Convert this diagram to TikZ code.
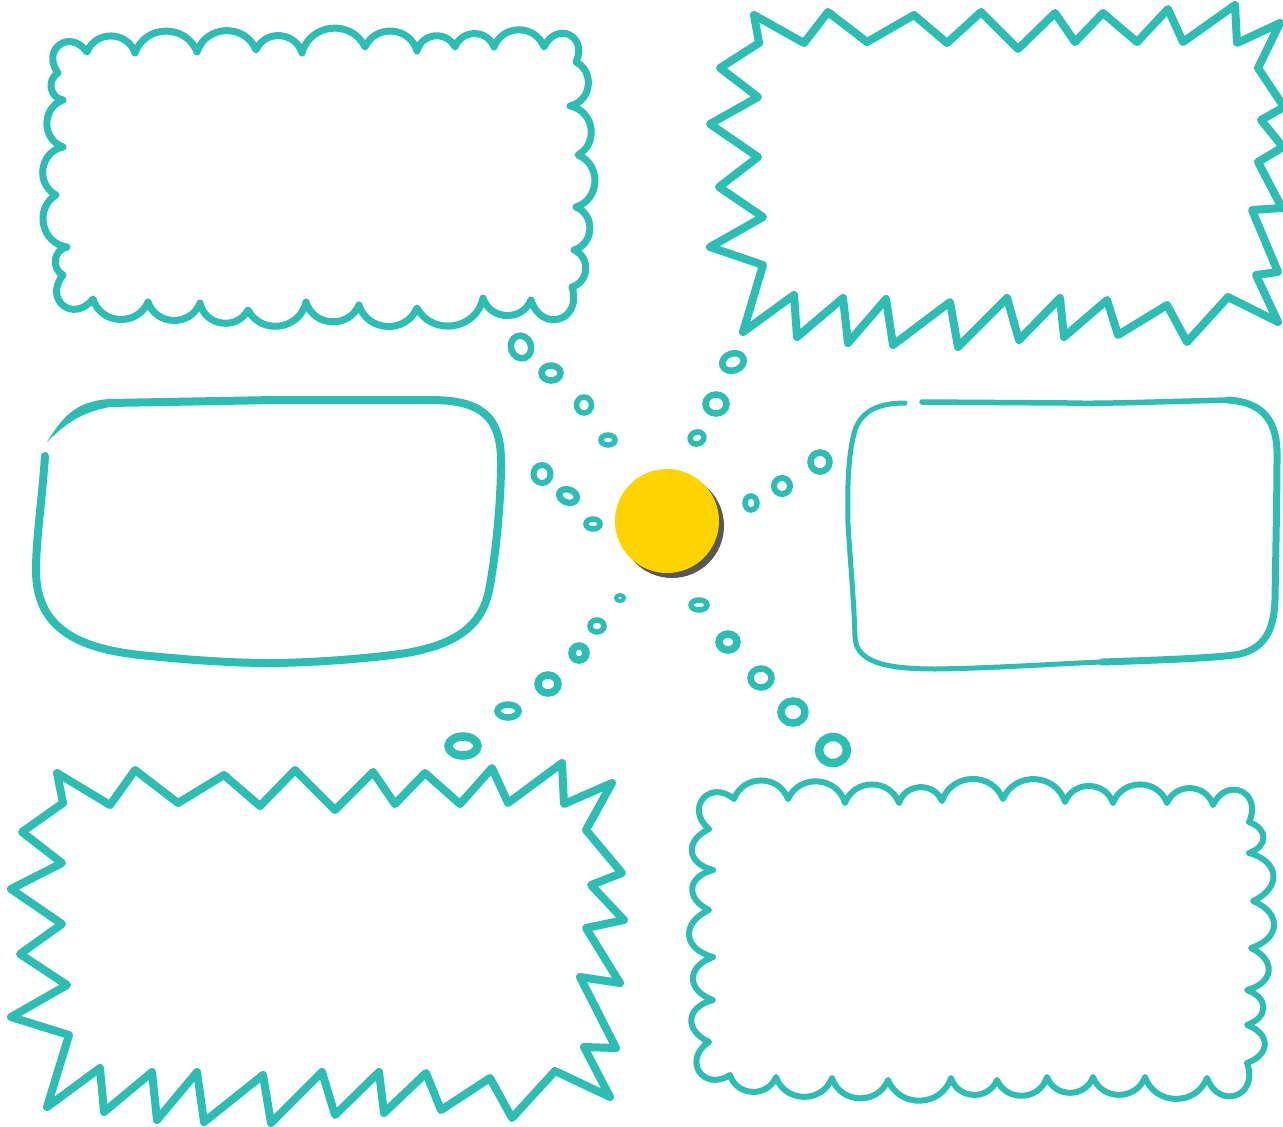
\documentclass[tikz,border=0pt]{standalone}
\usetikzlibrary{calc}
\definecolor{teal1}{HTML}{2CBEB3}
\definecolor{sunyellow}{HTML}{FDD300}
\definecolor{shadowgray}{HTML}{58585A}
\newcommand\ringat[6]{\draw[ringline, line width=#6pt, shift={(#1,#2)}] (0,0) ellipse [x radius=#3, y radius=#4, rotate=#5];}
\begin{document}
\begin{tikzpicture}[x=1pt,y=-1pt,
  outline/.style={draw=teal1, line width=8pt, line join=round, line cap=round},
  ringline/.style={draw=teal1},
  bumpy/.style={bend left=70, looseness=1.25},
  bumpyside/.style={bend left=70, looseness=1.7},
  bumpycorner/.style={bend left=90, looseness=2.1}]
\useasboundingbox (0,0) rectangle (1283,1127);
\fill[white] (0,0) rectangle (1283,1127);

% ---------- top-left cloud box ----------
\draw[outline, line width=7pt]
  (58,73) to[bumpycorner] (87,52) to[bumpy] (135,53) to[bumpy] (197,52) to[bumpy] (256,50)
  to[bumpy] (302,53) to[bumpy] (365,47) to[bumpy] (417,51) to[bumpy] (455,47) to[bumpy] (494,47)
  to[bumpy] (544,47) to[bumpycorner] (576,62)
  to[bumpy] (570,106) to[bumpy] (578,155) to[bumpy] (576,207) to[bumpy] (574,250) to[bumpy] (572,287)
  to[bumpycorner] (531,300)
  to[bumpy] (483,298) to[bumpy] (417,308) to[bumpy] (359,305) to[bumpy] (306,302) to[bumpy] (248,310)
  to[bumpy] (200,303) to[bumpy] (148,302) to[bumpy] (93,299)
  to[bumpycorner] (63,275)
  to[bumpy] (67,247) to[bumpy] (56,195) to[bumpy] (63,147) to[bumpy] (63,100) to[bumpy] (58,73);

% ---------- top-right zigzag box ----------
\draw[outline]
  (754,15) -- (804,43) -- (828,12) -- (867,42) -- (914,15) -- (947,43) -- (981,12) -- (1018,49)
  -- (1055,13) -- (1075,42) -- (1103,13) -- (1137,42) -- (1168,9) -- (1183,42) -- (1235,5) -- (1237,43)
  -- (1280,23) -- (1258,68) -- (1284,107) -- (1261,120) -- (1283,147) -- (1258,162) -- (1282,208)
  -- (1252,210) -- (1278,272) -- (1256,275) -- (1278,322) -- (1228,297) -- (1187,342) -- (1167,305)
  -- (1118,335) -- (1107,300) -- (1064,337) -- (1060,298) -- (1019,340) -- (1007,298) -- (958,347)
  -- (950,302) -- (893,345) -- (886,299) -- (848,343) -- (843,298) -- (797,337) -- (794,295)
  -- (743,332) -- (763,265) -- (710,247) -- (763,217) -- (719,187) -- (758,157) -- (710,124)
  -- (758,97) -- (720,68) -- (759,43) -- cycle;

% ---------- middle-left rounded box ----------
\draw[outline, line width=8pt]
  (45,456) .. controls (42,500) and (36,540) .. (36,570)
  .. controls (36,630) and (80,650) .. (150,656)
  .. controls (200,661) and (240,663) .. (268,663)
  .. controls (310,663) and (360,659) .. (392,655)
  .. controls (470,646) and (485,615) .. (490,585)
  .. controls (498,540) and (501,490) .. (501,465)
  .. controls (502,415) and (480,400) .. (430,400)
  -- (275,400) -- (110,403);
\fill[teal1] (110,399) .. controls (75,401) and (62,418) .. (47,442)
  .. controls (66,423) and (82,412) .. (110,407) -- cycle;

% ---------- middle-right rounded box ----------
\draw[outline, line width=5pt]
  (905,403) .. controls (880,403) and (862,410) .. (855,430)
  .. controls (849,450) and (847,480) .. (848,523)
  .. controls (850,560) and (854,600) .. (855,637)
  .. controls (856,660) and (880,669) .. (935,669)
  .. controls (1000,668) and (1050,664) .. (1102,662);
\draw[outline, line width=7pt]
  (1102,662) .. controls (1160,660) and (1220,658) .. (1240,654)
  .. controls (1268,647) and (1274,625) .. (1275,600)
  .. controls (1276,540) and (1277,490) .. (1277,457)
  .. controls (1278,420) and (1262,402) .. (1228,400);
\draw[outline, line width=5.5pt]
  (1228,400) .. controls (1150,402) and (1100,404) .. (1068,403) -- (922,402);

% ---------- bottom-left zigzag box ----------
\draw[outline]
  (57,773) -- (110,805) -- (135,770) -- (178,803) -- (224,775) -- (260,806) -- (295,770) -- (335,810)
  -- (373,772) -- (395,804) -- (425,773) -- (460,804) -- (492,768) -- (508,803) -- (562,763) -- (564,804)
  -- (612,783) -- (586,830) -- (622,873) -- (591,885) -- (624,920) -- (586,928) -- (620,983)
  -- (580,977) -- (616,1048) -- (584,1047) -- (610,1097) -- (555,1071) -- (512,1118) -- (490,1078)
  -- (441,1110) -- (426,1073) -- (384,1113) -- (379,1072) -- (335,1115) -- (322,1072) -- (271,1123)
  -- (263,1075) -- (204,1122) -- (197,1072) -- (157,1120) -- (152,1072) -- (104,1112) -- (100,1068)
  -- (47,1107) -- (69,1035) -- (11,1017) -- (67,985) -- (20,954) -- (62,924) -- (11,889) -- (62,863)
  -- (22,832) -- (63,803) -- cycle;

% ---------- bottom-right cloud box ----------
\draw[outline, line width=6pt]
  (709,829) to[bumpycorner] (734,799) to[bumpy] (788,799) to[bumpy] (845,803) to[bumpy] (899,803)
  to[bumpy] (942,801) to[bumpy] (1003,799) to[bumpy] (1065,802) to[bumpy] (1113,803) to[bumpy] (1167,803)
  to[bumpy] (1213,805) to[bumpycorner] (1249,822)
  to[bumpyside] (1249,853) to[bumpyside] (1253,901) to[bumpyside] (1251,948) to[bumpyside] (1247,990)
  to[bumpyside] (1247,1025) to[bumpyside] (1247,1063)
  to[bumpycorner] (1207,1078)
  to[bumpy] (1145,1077) to[bumpy] (1093,1077) to[bumpy] (1047,1077) to[bumpy] (997,1080) to[bumpy] (951,1078)
  to[bumpy] (888,1080) to[bumpy] (832,1078) to[bumpy] (776,1077) to[bumpy] (730,1075)
  to[bumpycorner] (709,1042)
  to[bumpyside] (713,1000) to[bumpyside] (713,957) to[bumpyside] (709,910) to[bumpyside] (713,870)
  to[bumpyside] (709,829);

% ---------- centre hub ----------
\fill[shadowgray] (672,526) circle [radius=52];
\fill[sunyellow] (667,521) circle [radius=52];

% ---------- small rings ----------
\ringat{521}{347}{10}{11.5}{20}{6.5}
\ringat{551}{373}{9.5}{7.5}{0}{6.5}
\ringat{584}{405}{7.5}{8}{0}{5.5}
\ringat{608}{440}{7}{5}{0}{5.5}
\ringat{542}{474}{8.5}{9}{0}{6}
\ringat{568}{496}{9}{6.5}{-20}{6.5}
\ringat{593}{524}{7}{5}{0}{5.5}
\ringat{733}{362}{11}{8.5}{20}{6.5}
\ringat{716}{404}{10.5}{9.5}{0}{6.5}
\ringat{697}{438}{7}{6}{20}{5.5}
\ringat{820}{462}{9.5}{9.5}{0}{6.5}
\ringat{782}{486}{8}{8}{0}{6}
\ringat{751}{503}{6}{7}{0}{5.5}
\ringat{620}{598}{4}{3}{0}{4}
\ringat{597}{626}{7}{6}{0}{5.5}
\ringat{579}{653}{7}{7}{0}{7.5}
\ringat{548}{684}{10}{9}{0}{7.5}
\ringat{508}{711}{10.5}{6.5}{0}{6.5}
\ringat{463}{746}{14.5}{9.5}{0}{8.5}
\ringat{699}{605}{8}{5}{0}{5.5}
\ringat{728}{642}{9}{8}{0}{7.5}
\ringat{761}{678}{10.5}{9.5}{0}{6.5}
\ringat{793}{712}{12}{11}{0}{7.5}
\ringat{833}{750}{14}{13}{0}{8.5}
\end{tikzpicture}
\end{document}
